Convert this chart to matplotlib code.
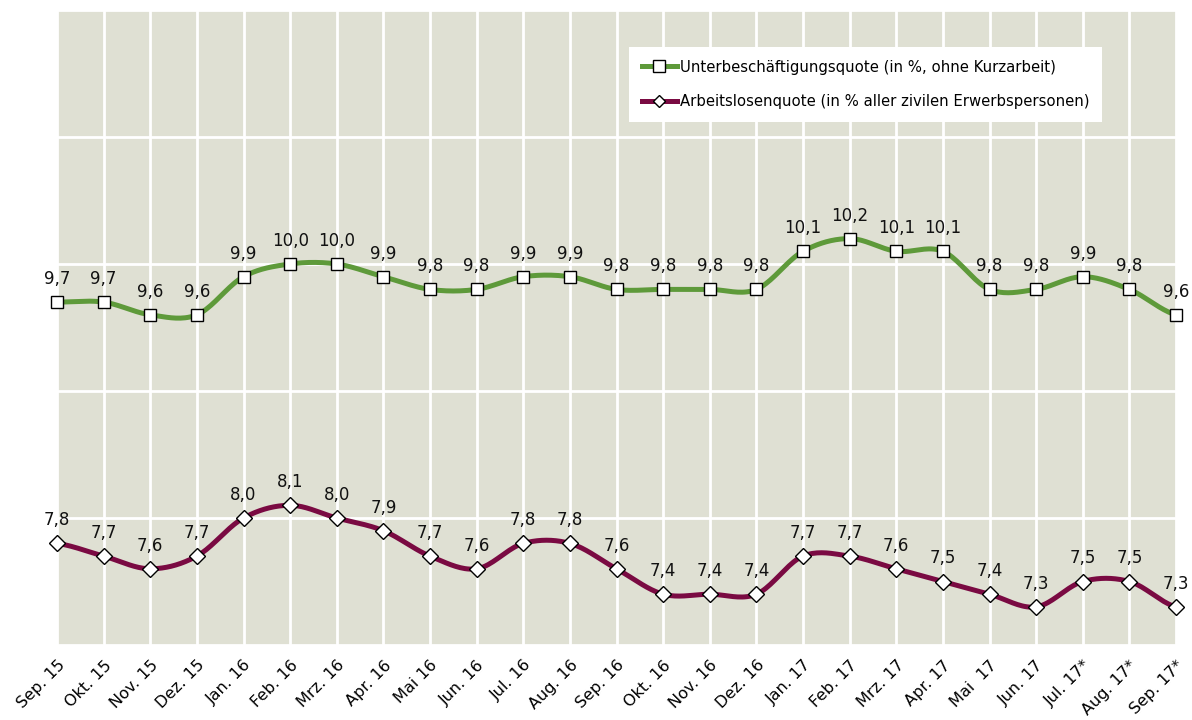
import numpy as np
import matplotlib
matplotlib.use("Agg")
import matplotlib.pyplot as plt
from matplotlib.lines import Line2D

months = ["Sep. 15", "Okt. 15", "Nov. 15", "Dez. 15", "Jan. 16", "Feb. 16", "Mrz. 16",
          "Apr. 16", "Mai 16", "Jun. 16", "Jul. 16", "Aug. 16", "Sep. 16", "Okt. 16",
          "Nov. 16", "Dez. 16", "Jan. 17", "Feb. 17", "Mrz. 17", "Apr. 17", "Mai  17",
          "Jun. 17", "Jul. 17*", "Aug. 17*", "Sep. 17*"]
unterbeschaeftigung = [9.7, 9.7, 9.6, 9.6, 9.9, 10.0, 10.0, 9.9, 9.8, 9.8, 9.9, 9.9, 9.8,
                       9.8, 9.8, 9.8, 10.1, 10.2, 10.1, 10.1, 9.8, 9.8, 9.9, 9.8, 9.6]
arbeitslosen = [7.8, 7.7, 7.6, 7.7, 8.0, 8.1, 8.0, 7.9, 7.7, 7.6, 7.8, 7.8, 7.6, 7.4,
                7.4, 7.4, 7.7, 7.7, 7.6, 7.5, 7.4, 7.3, 7.5, 7.5, 7.3]
label_u = "Unterbeschäftigungsquote (in %, ohne Kurzarbeit)"
label_a = "Arbeitslosenquote (in % aller zivilen Erwerbspersonen)"

GREEN = "#5E9A3A"
MAROON = "#7A0A42"
BG = "#DFE0D3"

plt.rcParams['font.family'] = ['DejaVu Sans']


def smooth(x, y, n=20):
    # Catmull-Rom style smoothing for the drawn curve (visual only)
    x = np.asarray(x, float); y = np.asarray(y, float)
    px = np.concatenate([[2 * x[0] - x[1]], x, [2 * x[-1] - x[-2]]])
    py = np.concatenate([[y[0]], y, [y[-1]]])
    xs, ys = [], []
    for i in range(1, len(px) - 2):
        p0, p1, p2, p3 = (np.array([px[j], py[j]]) for j in (i - 1, i, i + 1, i + 2))
        c1 = p1 + (p2 - p0) / 6.0
        c2 = p2 - (p3 - p1) / 6.0
        t = np.linspace(0, 1, n, endpoint=(i == len(px) - 3))[:, None]
        b = ((1 - t) ** 3) * p1 + 3 * ((1 - t) ** 2) * t * c1 + 3 * (1 - t) * t ** 2 * c2 + t ** 3 * p2
        xs.append(b[:, 0]); ys.append(b[:, 1])
    return np.concatenate(xs), np.concatenate(ys)


fig = plt.figure(figsize=(11.92, 7.2), dpi=100)
ax = fig.add_axes([57 / 1192, 1 - 645 / 720, (1176 - 57) / 1192, (645 - 10) / 720])
ax.set_facecolor(BG)

x = np.arange(len(months))
for vals, color, marker in ((unterbeschaeftigung, GREEN, 's'), (arbeitslosen, MAROON, 'D')):
    sx, sy = smooth(x, vals)
    ax.plot(sx, sy, color=color, lw=3.6, solid_capstyle='round', zorder=3, clip_on=False)
    ax.plot(x, vals, linestyle='none', marker=marker, ms=9 if marker == 's' else 8.5,
            mfc='white', mec='black', mew=1.0, zorder=4, clip_on=False)
    for xi, v in zip(x, vals):
        ax.annotate(f"{v:.1f}".replace('.', ','), (xi, v), xytext=(0, 13),
                    textcoords='offset points', ha='center', va='baseline',
                    fontsize=12, color='#111111', zorder=5, annotation_clip=False)

ax.set_xlim(0, len(months) - 1)
ax.set_ylim(7, 12)
ax.set_xticks(x)
ax.set_xticklabels(months, rotation=45, ha='right', rotation_mode='anchor', fontsize=11.5)
ax.set_yticks([7, 8, 9, 10, 11, 12])
ax.set_yticklabels([])
ax.tick_params(axis='both', length=0, pad=9)
ax.grid(True, color='white', lw=2, zorder=1)
ax.set_axisbelow(True)
for s in ax.spines.values():
    s.set_visible(False)

handles = [Line2D([], [], color=GREEN, lw=3.6, marker='s', ms=8, mfc='white', mec='black', mew=1),
           Line2D([], [], color=MAROON, lw=3.6, marker='D', ms=6, mfc='white', mec='black', mew=1)]
leg = ax.legend(handles, [label_u, label_a], loc='upper left',
                bbox_to_anchor=((629 - 57) / (1176 - 57), 1 - (47 - 10) / 635),
                frameon=True, fancybox=False, framealpha=1, edgecolor='white',
                fontsize=10.7, handlelength=2.4, handletextpad=0.2, labelspacing=1.3,
                borderpad=0.85, borderaxespad=0)
leg.get_frame().set_linewidth(0)

fig.savefig("out.png", dpi=100, facecolor='white')
